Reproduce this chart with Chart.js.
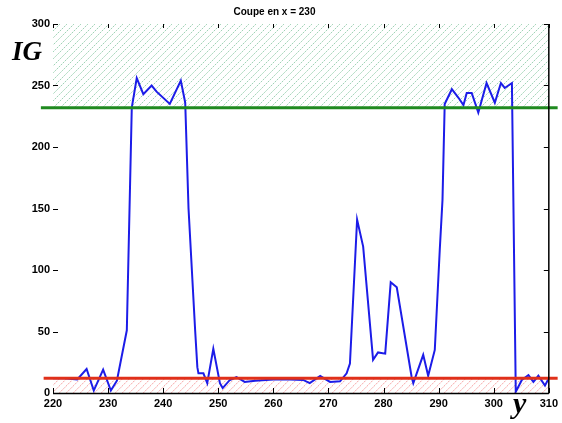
<!DOCTYPE html>
<html>
<head>
<meta charset="utf-8">
<script src="https://cdn.jsdelivr.net/npm/chart.js@4/dist/chart.umd.min.js"></script>
<style>
  html, body { margin: 0; padding: 0; background: #fff; }
  #wrap { width: 562px; height: 423px; }
</style>
</head>
<body>
<div id="wrap"><canvas id="coupeChart" width="562" height="423"></canvas></div>
<script>
// position along the cut (y) and grey level (IG)
var yPositions = [220, 222, 224.4, 226.1, 227.4, 229.1, 230.5, 231.6, 233.4, 234.3, 235.2, 236.4,
  237.9, 238.8, 241.2, 243.2, 244, 244.6, 245.8, 246.2, 246.4, 247.3, 248, 249.1, 250.3, 250.8,
  252.1, 253.3, 254.8, 256.7, 260, 263, 265.4, 266.6, 268.5, 270.3, 272.1, 273.3, 273.9, 274.2,
  275.2, 276.3, 278.1, 279, 280.3, 281.3, 282.4, 285.1, 285.4, 287.2, 288.1, 289.3, 290.2, 290.7,
  291.1, 292.4, 293.6, 294.5, 295.1, 296, 297.2, 298.7, 300.2, 301.3, 302, 303.3, 304, 305.1,
  306.3, 307.2, 308.1, 309.3, 310];
var igValues = [12, 12, 11, 19.5, 2, 19, 2, 10, 51, 232, 256, 243,
  250, 245, 235, 254, 236, 150, 51, 21, 16, 16, 8, 36, 8, 4,
  10.6, 13, 9, 10, 11, 11, 10.6, 8, 13.8, 9, 9.5, 16, 24, 51,
  141, 119, 27, 33, 32, 90, 86, 13, 8, 31, 14, 35, 116, 157,
  235, 247, 240, 234, 244, 244, 228, 252, 236, 252, 248, 252, 1, 10.6,
  14.6, 9, 14, 6, 12];

var upperThreshold = 232;
var lowerThreshold = 12;
var xRange = [220, 310];
var yRange = [0, 300];
var upperLineSpan = [217.8, 311.6];
var lowerLineSpan = [218.3, 311.6];

var ctx = document.getElementById('coupeChart');

// hatched bands above the upper threshold and below the lower one
function hatchBand(chart, yFrom, yTo, color) {
  var c = chart.ctx, xs = chart.scales.x, ys = chart.scales.y;
  var l = xs.getPixelForValue(xRange[0]), r = xs.getPixelForValue(xRange[1]);
  var t = ys.getPixelForValue(yTo), b = ys.getPixelForValue(yFrom);
  c.save();
  c.beginPath();
  c.rect(l, t, r - l, b - t);
  c.clip();
  c.strokeStyle = color;
  c.lineWidth = 1;
  c.setLineDash([2, 1]);
  c.beginPath();
  for (var x0 = l - (b - t); x0 < r; x0 += 7) {
    c.moveTo(x0, b);
    c.lineTo(x0 + (b - t), t);
  }
  c.stroke();
  c.restore();
}

var hatches = {
  id: 'hatches',
  beforeDatasetsDraw: function (chart) {
    hatchBand(chart, upperThreshold, yRange[1], 'rgba(80,175,120,0.55)');
    hatchBand(chart, yRange[0], lowerThreshold, 'rgba(240,100,100,0.6)');
  }
};

// inside tick marks, box lines and the big axis letters
var matlabAxes = {
  id: 'matlabAxes',
  afterDraw: function (chart) {
    var c = chart.ctx, a = chart.chartArea;
    var xs = chart.scales.x, ys = chart.scales.y;
    c.save();
    c.strokeStyle = '#000';
    c.lineWidth = 1;
    c.beginPath();
    ys.ticks.forEach(function (t) {
      var p = Math.round(ys.getPixelForValue(t.value)) + 0.5;
      c.moveTo(a.left, p); c.lineTo(a.left + 5, p);
      c.moveTo(a.right, p); c.lineTo(a.right - 5, p);
    });
    xs.ticks.forEach(function (t) {
      var p = Math.round(xs.getPixelForValue(t.value)) + 0.5;
      c.moveTo(p, a.bottom); c.lineTo(p, a.bottom - 5);
      c.moveTo(p, a.top); c.lineTo(p, a.top + 4);
    });
    c.stroke();
    c.lineWidth = 1.5;
    c.beginPath();
    c.moveTo(a.left, a.bottom + 0.5); c.lineTo(a.right, a.bottom + 0.5);
    c.moveTo(a.right, a.top); c.lineTo(a.right, a.bottom + 0.5);
    c.stroke();

    c.fillStyle = '#000';
    c.font = 'italic bold 27px "Liberation Serif"';
    c.textBaseline = 'alphabetic';
    c.fillText('IG', 12, 60);
    c.font = 'italic bold 30px "Liberation Serif"';
    c.fillText('y', 513, 413);
    c.restore();
  }
};

new Chart(ctx, {
  type: 'line',
  data: {
    datasets: [
      {
        data: yPositions.map(function (v, i) { return {x: v, y: igValues[i]}; }),
        borderColor: '#1c1ce8',
        borderWidth: 2,
        pointRadius: 0,
        tension: 0,
        fill: false,
        order: 2
      },
      {
        data: [{x: upperLineSpan[0], y: upperThreshold}, {x: upperLineSpan[1], y: upperThreshold}],
        borderColor: '#1f8a1f',
        borderWidth: 3,
        pointRadius: 0,
        fill: false,
        clip: false,
        order: 1
      },
      {
        data: [{x: lowerLineSpan[0], y: lowerThreshold}, {x: lowerLineSpan[1], y: lowerThreshold}],
        borderColor: '#e0301a',
        borderWidth: 3,
        pointRadius: 0,
        fill: false,
        clip: false,
        order: 1
      }
    ]
  },
  options: {
    responsive: false,
    animation: false,
    layout: { padding: { left: 0, right: 13, top: 3, bottom: 0 } },
    plugins: {
      legend: { display: false },
      tooltip: { enabled: false },
      title: {
        display: true,
        text: 'Coupe en x = 230',
        color: '#000',
        font: { family: '"Liberation Sans", Arial, sans-serif', size: 10, weight: 'bold' },
        padding: { top: 3, bottom: 6 }
      }
    },
    scales: {
      x: {
        type: 'linear',
        min: xRange[0],
        max: xRange[1],
        grid: { display: false, drawTicks: false },
        border: { display: false },
        ticks: {
          stepSize: 10,
          padding: 4,
          color: '#000',
          maxRotation: 0,
          font: { family: '"Liberation Sans", Arial, sans-serif', size: 11, weight: 'bold' }
        },
        afterFit: function (s) { s.height = 30; }
      },
      y: {
        min: yRange[0],
        max: yRange[1],
        grid: { display: false, drawTicks: false },
        border: { display: false },
        ticks: {
          stepSize: 50,
          padding: 3,
          color: '#000',
          font: { family: '"Liberation Sans", Arial, sans-serif', size: 11, weight: 'bold' }
        },
        afterFit: function (s) { s.width = 53; }
      }
    }
  },
  plugins: [hatches, matlabAxes]
});
</script>
</body>
</html>
